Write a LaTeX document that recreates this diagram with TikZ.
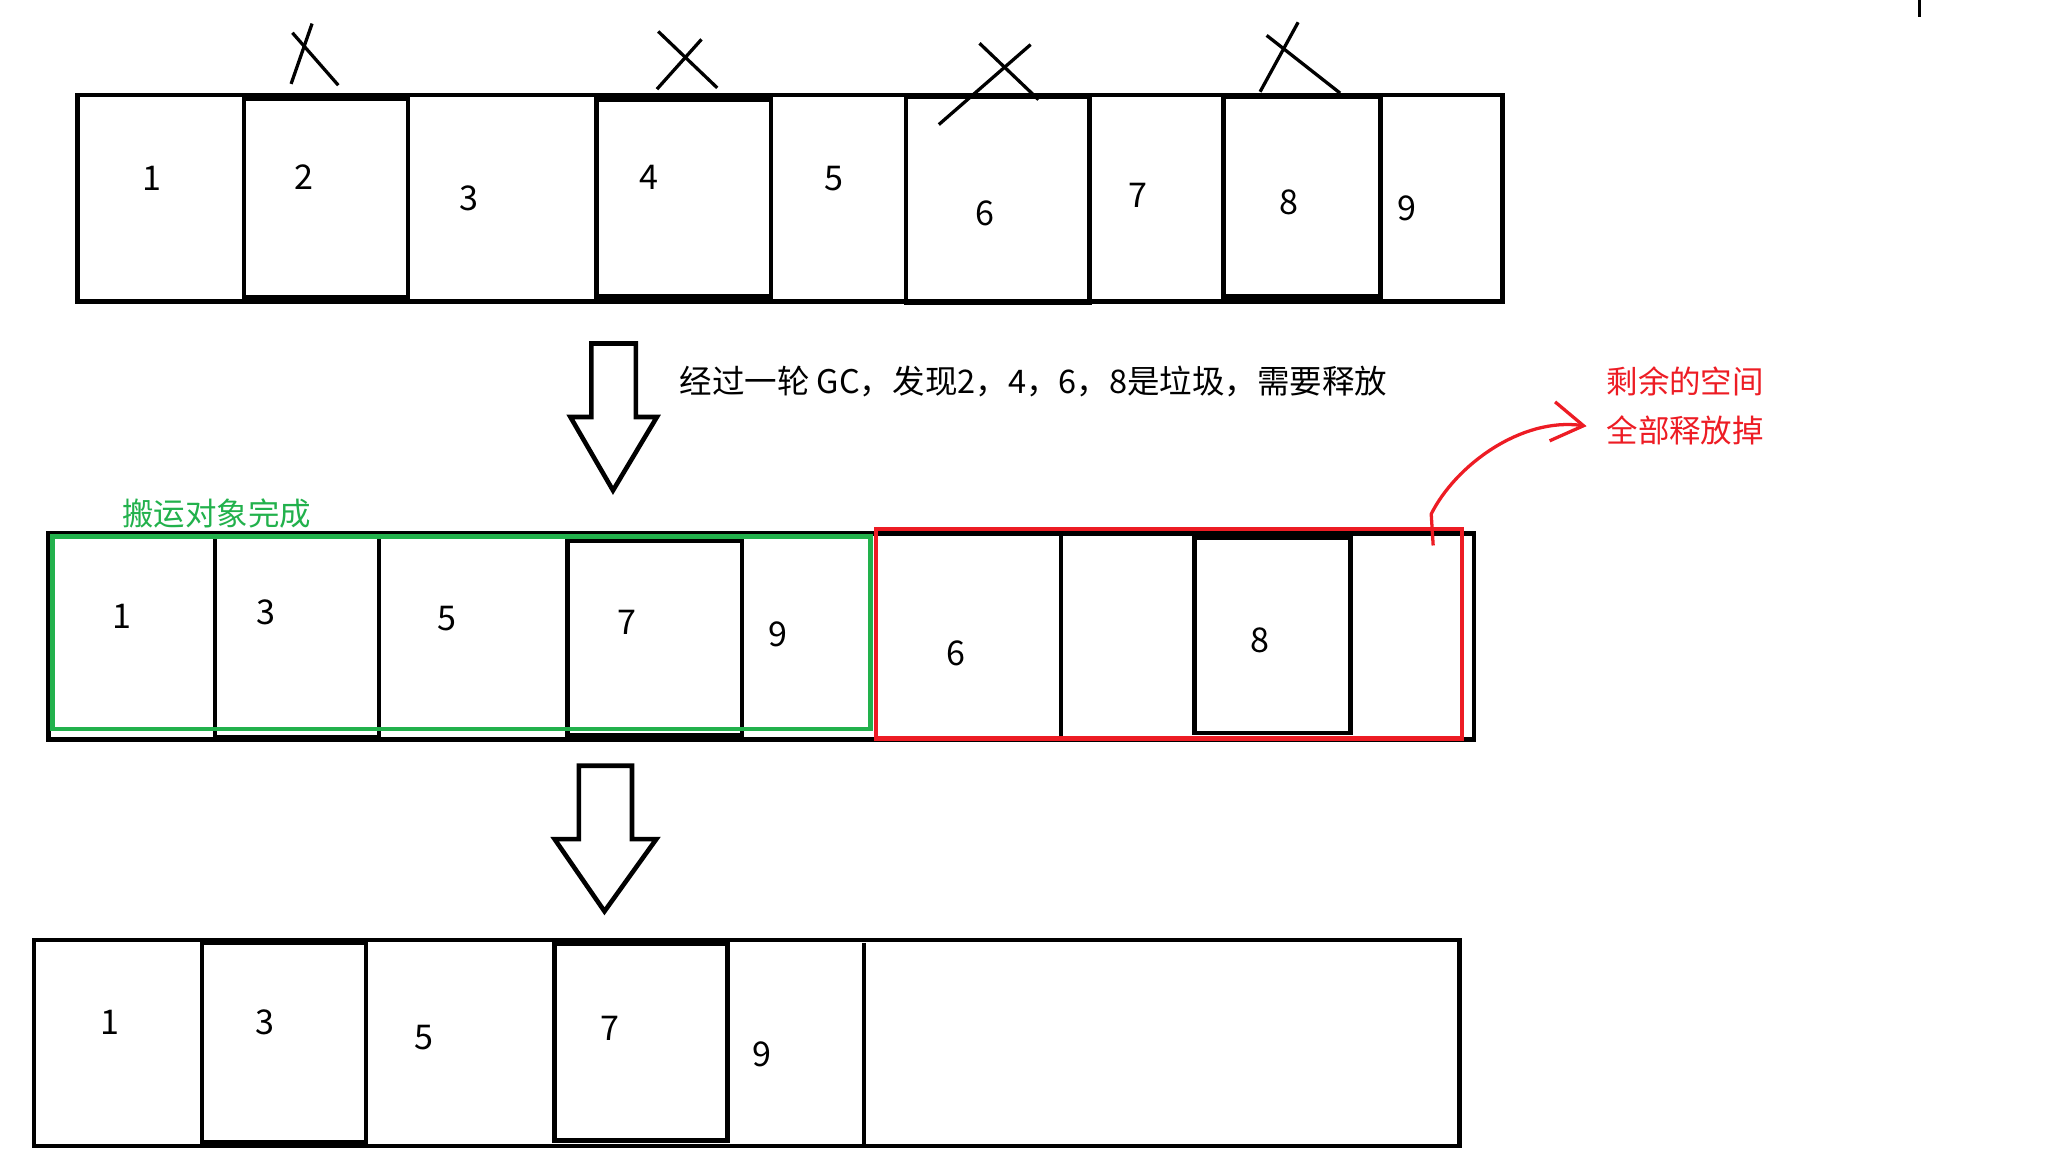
\documentclass[tikz,border=0pt]{standalone}
\usepackage{fontspec}
\setmainfont{Noto Sans CJK SC}
\usepackage{tikz}
\usetikzlibrary{arrows.meta,calc,positioning}
\definecolor{paintred}{HTML}{ED1C24}
\definecolor{paintgreen}{HTML}{22B14C}

\begin{document}
\begin{tikzpicture}[x=1pt, y=-1pt,
        memcell/.style={draw, line width=3.5pt},
        numlbl/.style={inner sep=0pt, font=\fontsize{26}{30}\selectfont},
        cross/.style={line width=2.5pt},
        bigarrow/.style={draw, line width=3.5pt},
        note/.style={inner sep=0pt, font=\fontsize{24}{30}\selectfont}]

        \useasboundingbox (0,0) rectangle (1568,888);

        % Prima riga: heap prima del GC
        \draw[memcell] (59,72.5) rectangle (1146,230);
        \draw[memcell] (186,75) rectangle (311,227);
        \draw[memcell] (455,76) rectangle (588,226);
        \draw[memcell] (691,74) rectangle (831,230.5);
        \draw[memcell] (933,74) rectangle (1053,226);
        \foreach \n/\x/\y in {1/116/136, 2/232/135, 3/358/151, 4/495/135, 5/636/136,
                6/751/163, 7/868/149, 8/983/154, 9/1073/159}
            \node[numlbl] (t\n) at (\x,\y) {\n};

        % Oggetti da liberare
        \draw[cross] (223,25) -- (258,65);
        \draw[cross] (238,18) -- (222,64);
        \draw[cross] (502,24) -- (547,67);
        \draw[cross] (535,30) -- (501,68);
        \draw[cross] (747,33) -- (792,76);
        \draw[cross] (786,34) -- (716,95);
        \draw[cross] (990,17) -- (961,70);
        \draw[cross] (966,27) -- (1022,71);
        \draw[cross] (1464,0) -- (1464,13);

        % Prima freccia
        \draw[bigarrow] (451,262) -- (485,262) -- (485,318) -- (501,318)
            -- (467.5,374) -- (435,318) -- (451,318) -- cycle;
        \node[note, anchor=west, font=\fontsize{24.8}{30}\selectfont] (gcnote) at (518,291)
            {经过一轮 GC，发现2，4，6，8是垃圾，需要释放};

        % Seconda riga: oggetti compattati
        \draw[memcell] (37,407) rectangle (1124,564);
        \draw[memcell] (164,409) rectangle (289,562);
        \draw[memcell] (433,412) rectangle (566,561);
        \draw[memcell] (809,407) -- (809,565);
        \draw[memcell] (911,410) rectangle (1030,559);
        \foreach \n/\x/\y in {1/93/470, 3/203/467, 5/341/472, 7/478/475, 9/593/484,
                6/729/498, 8/961/488}
            \node[numlbl] (m\n) at (\x,\y) {\n};

        % Zona spostata e zona da liberare
        \draw[paintgreen, line width=3.5pt] (40,409) rectangle (664,556);
        \node[note, paintgreen, anchor=west] (moved) at (93,392) {搬运对象完成};
        \draw[paintred, line width=3.5pt] (668,403.5) rectangle (1115,563);
        \node[note, paintred, anchor=west] (freed) at (1225,291) {剩余的空间};
        \node[note, paintred, anchor=west] (freedb) at (1225,328) {全部释放掉};
        \coordinate (rs) at (1093,416);
        \coordinate (rt) at (1210,325);
        \draw[paintred, line width=2.5pt, -{Straight Barb[length=24pt,width=30pt]}]
            (rs) -- ++(-1.5,-24) .. controls (1110,355) and (1160,318) .. (rt);

        % Seconda freccia
        \draw[bigarrow] (441.5,584) -- (482,584) -- (482,640) -- (500.5,640)
            -- (461,695) -- (423,640) -- (441.5,640) -- cycle;

        % Terza riga: spazio liberato
        \draw[memcell] (26,717) rectangle (1113,874);
        \draw[memcell] (154,719) rectangle (279,871);
        \draw[memcell] (423,720) rectangle (555,870);
        \draw[memcell] (659,719) -- (659,875);
        \foreach \n/\x/\y in {1/84/780, 3/202/780, 5/323/791, 7/465/784, 9/581/804}
            \node[numlbl] (b\n) at (\x,\y) {\n};
    \end{tikzpicture}
\end{document}
